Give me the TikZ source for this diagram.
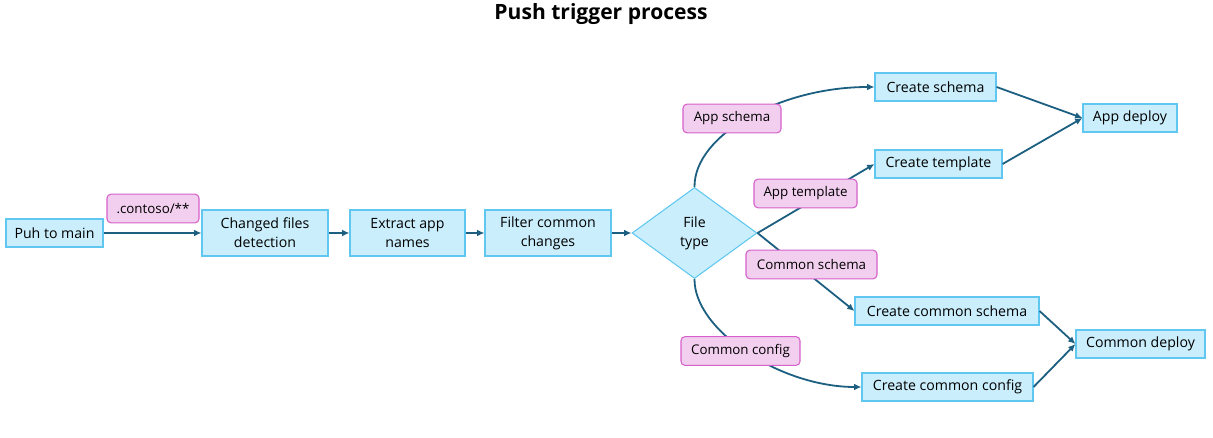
\documentclass[tikz,border=0pt]{standalone}
\usepackage{fontspec}
\setmainfont{Open Sans}
\usetikzlibrary{shapes.geometric,arrows.meta}

\definecolor{boxfill}{RGB}{202,238,251}
\definecolor{boxline}{RGB}{96,200,240}
\definecolor{tagfill}{RGB}{242,207,238}
\definecolor{tagline}{RGB}{214,96,204}
\definecolor{flowline}{RGB}{28,95,128}

\tikzset{
  box/.style={draw=boxline, fill=boxfill, line width=0.8pt, align=center,
    inner sep=0pt, font=\fontsize{10.6}{14.2}\selectfont},
  tag/.style={draw=tagline, fill=tagfill, line width=0.8pt, rounded corners=3pt,
    inner sep=0pt, minimum height=21.5pt, font=\fontsize{10}{12}\selectfont},
  decision/.style={diamond, draw=boxline, fill=boxfill, line width=0.8pt,
    align=center, inner sep=0pt, font=\fontsize{10.6}{14.2}\selectfont},
  flow/.style={draw=flowline, line width=1.35pt, -{Latex[length=5.5pt,width=5pt]}}
}

\begin{document}
\begin{tikzpicture}[x=0.75pt, y=-0.75pt]

    \useasboundingbox (0,0) rectangle (1213,438);

    % Title
    \node[font=\bfseries\fontsize{15.8}{18}\selectfont] (title) at (601,14) {Push trigger process};

    % Main line
    \node[box, minimum width=72.75pt, minimum height=21pt] (push)    at (54.5,233) {Puh to main};
    \node[box, minimum width=94.5pt,  minimum height=34.5pt] (changed) at (265,233) {Changed files\\detection};
    \node[box, minimum width=86.25pt, minimum height=34.5pt] (extract) at (407.5,233) {Extract app\\names};
    \node[box, minimum width=94.5pt,  minimum height=34.5pt] (filter)  at (548,233) {Filter common\\changes};
    \node[decision, minimum width=93.75pt, minimum height=68.25pt] (filetype) at (694.5,233) {File\\type};

    % Create steps
    \node[box, minimum width=90.75pt, minimum height=21pt] (mkschema)   at (935.5,87)  {Create schema};
    \node[box, minimum width=95.25pt, minimum height=21pt] (mktemplate) at (938.5,164) {Create template};
    \node[box, minimum width=138pt,   minimum height=21pt] (mkcschema)  at (947,311)   {Create common schema};
    \node[box, minimum width=128.25pt,minimum height=21pt] (mkcconfig)  at (947.5,387) {Create common config};

    % Deploy steps
    \node[box, minimum width=70.5pt, minimum height=21pt] (appdeploy)    at (1130,118)   {App deploy};
    \node[box, minimum width=96.75pt,minimum height=21pt] (commondeploy) at (1140.5,344) {Common deploy};

    % Connectors
    \draw[flow] (push) -- (changed);
    \draw[flow] (changed) -- (extract);
    \draw[flow] (extract) -- (filter);
    \draw[flow] (filter) -- (filetype);

    \draw[flow] (filetype.north) .. controls (694,135) and (780,87) .. (mkschema.west);
    \draw[flow] (filetype.east) -- (mktemplate.west);
    \draw[flow] (filetype.east) -- (mkcschema.west);
    \draw[flow] (filetype.south) .. controls (694,330) and (780,387) .. (mkcconfig.west);

    \draw[flow] (mkschema.east) -- (appdeploy.west);
    \draw[flow] (mktemplate.east) -- (appdeploy.west);
    \draw[flow] (mkcschema.east) -- (commondeploy.west);
    \draw[flow] (mkcconfig.east) -- (commondeploy.west);

    % Labels
    \node[tag, minimum width=69pt] (contoso)     at (153,208.5)   {.contoso/**};
    \node[tag, minimum width=73.5pt] (appschema)   at (732,118.5)   {App schema};
    \node[tag, minimum width=77.25pt] (apptemplate) at (805.5,193.5) {App template};
    \node[tag, minimum width=98.25pt] (commonschema) at (811.5,264.5) {Common schema};
    \node[tag, minimum width=89.25pt] (commonconfig) at (740.5,351)   {Common config};

\end{tikzpicture}
\end{document}
